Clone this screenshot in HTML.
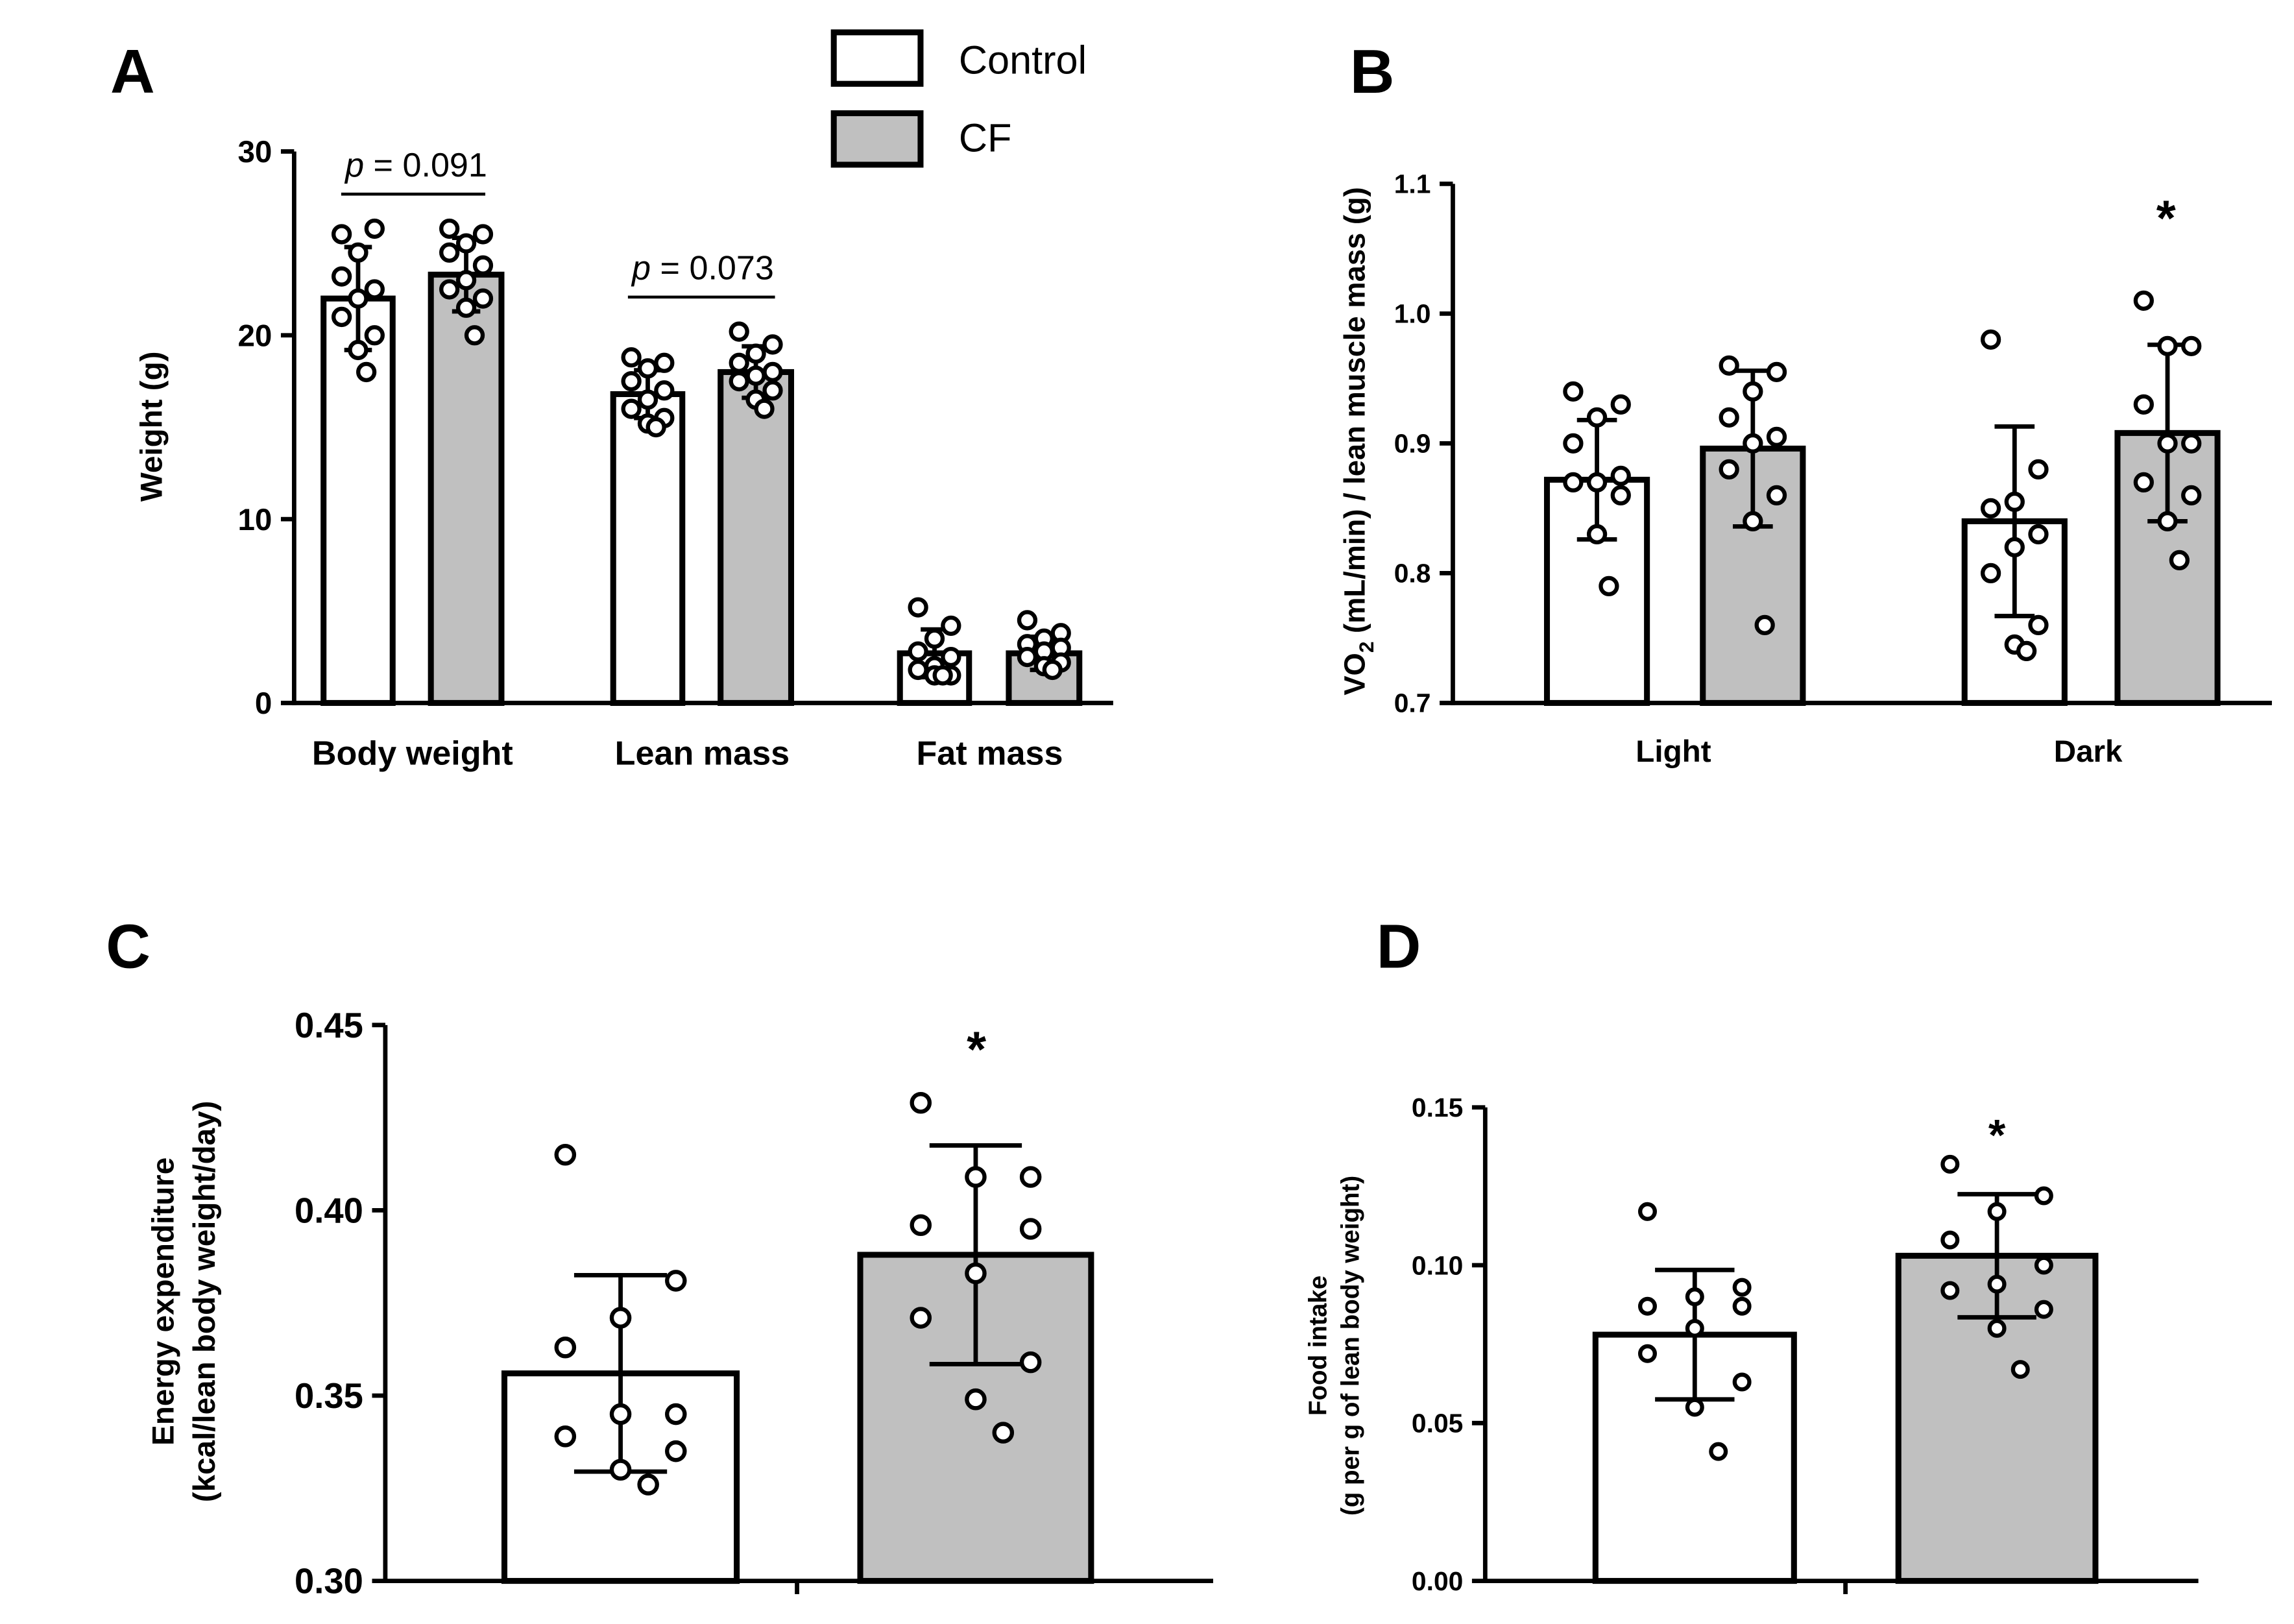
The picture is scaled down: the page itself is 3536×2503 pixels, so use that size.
<!DOCTYPE html>
<html><head><meta charset="utf-8"><style>
html,body{margin:0;padding:0;background:#fff;}
svg{display:block;font-family:"Liberation Sans",Arial,sans-serif;}
</style></head><body>
<svg id="fig" width="3536" height="2503" viewBox="0 0 1560 1104.3" xmlns="http://www.w3.org/2000/svg">
<rect width="1560" height="1104.3" fill="#fff"/>
<g id="root"></g>
</svg>
<script>
// Panel A data
const aCategories = ["Body weight","Lean mass","Fat mass"];
const aCtrlMeans = [22, 16.8, 2.7];
const aCfMeans = [23.3, 18, 2.7];
const aCtrlSD = [2.8, 1.3, 1.3];
const aCfSD = [2.0, 1.4, 0.9];
const aCtrlPts = [[25.5,25.8,24.5,23.2,22.5,22,21,20,19.2,18],[18.8,18.5,18.2,17.5,17,16.5,16,15.5,15.2,15],[5.2,4.2,3.5,2.8,2.5,2,1.8,1.5,1.5,1.5]];
const aCfPts = [[25.8,25.5,25,24.5,23.8,23,22.5,22,21.5,20],[20.2,19.5,19,18.5,18,17.8,17.5,17,16.5,16],[4.5,3.8,3.5,3.2,3,2.8,2.5,2.2,2,1.8]];
const aTicks = [0,10,20,30];
// Panel B data
const bCategories = ["Light","Dark"];
const bCtrlMeans = [0.872, 0.840];
const bCfMeans = [0.896, 0.908];
const bCtrlSD = [0.046, 0.073];
const bCfSD = [0.060, 0.068];
const bCtrlPts = [[0.94,0.93,0.92,0.90,0.875,0.87,0.87,0.86,0.83,0.79],[0.98,0.88,0.855,0.85,0.83,0.82,0.80,0.76,0.745,0.74]];
const bCfPts = [[0.96,0.955,0.94,0.92,0.905,0.90,0.88,0.86,0.84,0.76],[1.01,0.975,0.975,0.93,0.90,0.90,0.87,0.86,0.84,0.81]];
const bTicks = [0.7,0.8,0.9,1.0,1.1];
// Panel C data
const cMeans = [0.356, 0.388];
const cSD = [0.0265, 0.0295];
const cPts = [[0.415,0.381,0.371,0.363,0.345,0.345,0.339,0.335,0.330,0.326],[0.429,0.409,0.409,0.396,0.395,0.383,0.371,0.359,0.349,0.340]];
const cTicks = [0.30,0.35,0.40,0.45];
// Panel D data
const dMeans = [0.078, 0.103];
const dSD = [0.0205, 0.0195];
const dPts = [[0.117,0.093,0.090,0.087,0.087,0.080,0.072,0.063,0.055,0.041],[0.132,0.122,0.117,0.108,0.100,0.094,0.092,0.086,0.080,0.067]];
const dTicks = [0.00,0.05,0.10,0.15];

const NS="http://www.w3.org/2000/svg";
const root=document.getElementById('root');
function mk(tag,attrs,parent){const e=document.createElementNS(NS,tag);for(const k in attrs)e.setAttribute(k,attrs[k]);(parent||root).appendChild(e);return e;}
function txt(s,attrs,parent){const e=mk('text',attrs,parent);e.textContent=s;return e;}
const jit=[-0.28,0.28,0,-0.28,0.28,0,-0.28,0.28,0,0.14];

function panel(o){
  const g=mk('g',{});
  
  
  const y=v=>o.y0+(v-o.vmin)/(o.vmax-o.vmin)*(o.y1-o.y0);
  const ya=mk('line',{x1:o.ax,y1:y(o.vmin)+1.5,x2:o.ax,y2:y(o.vmax),stroke:'#000','stroke-width':3},g);
  
  const xa=mk('line',{x1:o.ax-1.5,y1:y(o.vmin),x2:o.axEnd,y2:y(o.vmin),stroke:'#000','stroke-width':3},g);
  
  o.ticks.forEach(t=>{
    mk('line',{x1:o.ax-9,y1:y(t),x2:o.ax,y2:y(t),stroke:'#000','stroke-width':3},g);
    const tl=txt(o.fmt(t),{x:o.ax-15,y:y(t)+o.tfs*0.35,'text-anchor':'end','font-size':o.tfs,'font-weight':'bold'},g);
    
  });
  o.bars.forEach((b,i)=>{
    const r=mk('rect',{x:b.x,y:y(b.mean),width:b.w,height:y(o.vmin)-y(b.mean),fill:b.fill,stroke:'#000','stroke-width':4},g);
    
    const cx=b.x+b.w/2, hw=b.w*0.2;
    const eb=mk('g',{},g);
    
    mk('line',{x1:cx,y1:y(b.mean+b.sd),x2:cx,y2:y(b.mean-b.sd),stroke:'#000','stroke-width':3},eb);
    mk('line',{x1:cx-hw,y1:y(b.mean+b.sd),x2:cx+hw,y2:y(b.mean+b.sd),stroke:'#000','stroke-width':3},eb);
    mk('line',{x1:cx-hw,y1:y(b.mean-b.sd),x2:cx+hw,y2:y(b.mean-b.sd),stroke:'#000','stroke-width':3},eb);
    b.pts.forEach((v,j)=>{
      const c=mk('circle',{cx:cx+jit[j]*b.w*0.85,cy:y(v),r:o.pr||5.5,fill:'#fff',stroke:'#000','stroke-width':2.8},g);
      
    });
  });
  return y;
}

// Panel A
const aBars=[];
const aX=[[220,293],[417,490],[612,686]];
aCategories.forEach((c,i)=>{
  aBars.push({x:aX[i][0],w:47,mean:aCtrlMeans[i],sd:aCtrlSD[i],pts:aCtrlPts[i],fill:'#fff',name:'bar-control-'+i});
  aBars.push({x:aX[i][1],w:48,mean:aCfMeans[i],sd:aCfSD[i],pts:aCfPts[i],fill:'#c0c0c0',name:'bar-cf-'+i});
});
panel({name:'panel-a',ax:200,axEnd:757,y0:478,y1:103,vmin:0,vmax:30,ticks:aTicks,fmt:t=>String(t),tfs:21,bars:aBars,pr:5.5});
aCategories.forEach((c,i)=>{
  const l=txt(c,{x:(aX[i][0]+aX[i][1]+48)/2,y:520,'text-anchor':'middle','font-size':23,'font-weight':'bold'});
  
});
let t=txt('',{x:110,y:290,transform:'rotate(-90 110 290)','text-anchor':'middle','font-size':21,'font-weight':'bold'});t.textContent='Weight (g)';

mk('line',{x1:232,y1:132,x2:330,y2:132,stroke:'#000','stroke-width':2});
mk('line',{x1:427,y1:202,x2:527,y2:202,stroke:'#000','stroke-width':2});
let p1=txt('',{x:283,y:120,'text-anchor':'middle','font-size':23});p1.innerHTML='<tspan font-style="italic">p</tspan> = 0.091';

let p2=txt('',{x:478,y:190,'text-anchor':'middle','font-size':23});p2.innerHTML='<tspan font-style="italic">p</tspan> = 0.073';


// Legend
const lg=mk('g',{});
mk('rect',{x:567,y:22,width:59,height:35,fill:'#fff',stroke:'#000','stroke-width':4},lg);
mk('rect',{x:567,y:77,width:59,height:35,fill:'#c0c0c0',stroke:'#000','stroke-width':4},lg);
txt('Control',{x:652,y:50,'font-size':27},lg);
txt('CF',{x:652,y:103,'font-size':27},lg);

// Panel B
const bX=[[1052,1158],[1336,1440]];
const bBars=[];
bCategories.forEach((c,i)=>{
  bBars.push({x:bX[i][0],w:68,mean:bCtrlMeans[i],sd:bCtrlSD[i],pts:bCtrlPts[i],fill:'#fff',name:'bar-control-'+c.toLowerCase()});
  bBars.push({x:bX[i][1],w:68,mean:bCfMeans[i],sd:bCfSD[i],pts:bCfPts[i],fill:'#c0c0c0',name:'bar-cf-'+c.toLowerCase()});
});
panel({name:'panel-b',ax:988,axEnd:1545,y0:478,y1:125,vmin:0.7,vmax:1.1,ticks:bTicks,fmt:t=>t.toFixed(1),tfs:18,bars:bBars,pr:5.5});
[1138,1420].forEach((x,i)=>{const l=txt(bCategories[i],{x:x,y:518,'text-anchor':'middle','font-size':21,'font-weight':'bold'});
  });
t=txt('',{x:928,y:300,transform:'rotate(-90 928 300)','text-anchor':'middle','font-size':20,'font-weight':'bold'});
t.innerHTML='VO<tspan font-size="14" dy="6">2</tspan><tspan dy="-6"> (mL/min) / lean muscle mass (g)</tspan>';

t=txt('*',{x:1473,y:160,'text-anchor':'middle','font-size':34,'font-weight':'bold'});

// Panel C
panel({name:'panel-c',ax:262,axEnd:825,y0:1075,y1:697,vmin:0.30,vmax:0.45,ticks:cTicks,fmt:t=>t.toFixed(2),tfs:24,pr:6,
  bars:[{x:343,w:158,mean:cMeans[0],sd:cSD[0],pts:cPts[0],fill:'#fff',name:'bar-control'},{x:585,w:157,mean:cMeans[1],sd:cSD[1],pts:cPts[1],fill:'#c0c0c0',name:'bar-cf'}]});
mk('line',{x1:542,y1:1075,x2:542,y2:1084,stroke:'#000','stroke-width':3});
t=txt('',{x:0,y:0,transform:'translate(118 885) rotate(-90)','text-anchor':'middle','font-size':21,'font-weight':'bold'});t.textContent='Energy expenditure';

t=txt('',{x:0,y:0,transform:'translate(146 885) rotate(-90)','text-anchor':'middle','font-size':21,'font-weight':'bold'});t.textContent='(kcal/lean body weight/day)';

t=txt('*',{x:664,y:725,'text-anchor':'middle','font-size':34,'font-weight':'bold'});

// Panel D
panel({name:'panel-d',ax:1010,axEnd:1495,y0:1075,y1:753,vmin:0,vmax:0.15,ticks:dTicks,fmt:t=>t.toFixed(2),tfs:18,pr:5,
  bars:[{x:1085,w:135,mean:dMeans[0],sd:dSD[0],pts:dPts[0],fill:'#fff',name:'bar-control'},{x:1291,w:134,mean:dMeans[1],sd:dSD[1],pts:dPts[1],fill:'#c0c0c0',name:'bar-cf'}]});
mk('line',{x1:1255,y1:1075,x2:1255,y2:1084,stroke:'#000','stroke-width':3});
t=txt('',{x:0,y:0,transform:'translate(902 915) rotate(-90)','text-anchor':'middle','font-size':17,'font-weight':'bold'});t.textContent='Food intake';

t=txt('',{x:0,y:0,transform:'translate(924 915) rotate(-90)','text-anchor':'middle','font-size':17,'font-weight':'bold'});t.textContent='(g per g of lean body weight)';

t=txt('*',{x:1358,y:782,'text-anchor':'middle','font-size':30,'font-weight':'bold'});

// Panel letters
[['A',75,63],['B',918,63],['C',72,658],['D',936,658]].forEach(a=>{
  const l=txt(a[0],{x:a[1],y:a[2],'font-size':42,'font-weight':'bold'});
  
  
});
</script>
</body></html>
